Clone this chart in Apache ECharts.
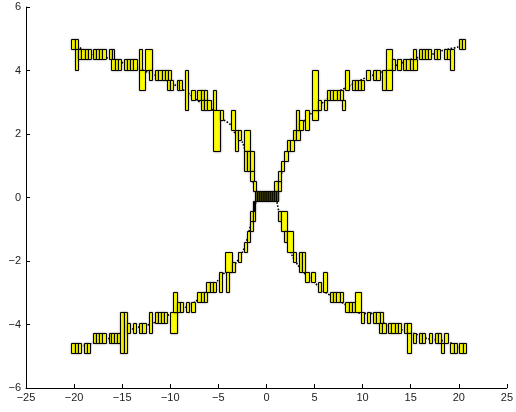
<!DOCTYPE html>
<html>
<head>
<meta charset="utf-8">
<script src="https://cdn.jsdelivr.net/npm/echarts@6/dist/echarts.min.js"></script>
<style>
  html, body { margin: 0; padding: 0; background: #fff; }
  #chart { width: 516px; height: 412px; }
</style>
</head>
<body>
<div id="chart"></div>
<script>
// Axis ranges and ticks
const xRange = [-25, 25];
const xStep = 5;
const yRange = [-6, 6];
const yStep = 2;

// Boxes per branch: [xLeft, xRight, yLow, yHigh, cells]
const upperLeftBoxes = [
  [-20.28, -19.59, 4.67, 4.99, 2],
  [-19.93, -19.59, 4.03, 4.67, 1],
  [-19.59, -18.22, 4.35, 4.67, 4],
  [-18.04, -16.73, 4.35, 4.67, 4],
  [-16.42, -15.80, 4.35, 4.67, 2],
  [-16.14, -15.11, 4.03, 4.35, 3],
  [-14.83, -13.49, 4.03, 4.35, 4],
  [-13.28, -12.93, 4.03, 4.67, 1],
  [-13.28, -12.59, 3.40, 4.03, 1],
  [-12.59, -11.90, 4.03, 4.67, 1],
  [-12.24, -11.90, 3.71, 4.03, 1],
  [-11.59, -9.88, 3.71, 4.03, 5],
  [-10.38, -9.69, 3.40, 3.71, 2],
  [-9.35, -8.73, 3.40, 3.71, 2],
  [-8.45, -8.11, 2.76, 4.03, 1],
  [-7.80, -7.45, 3.08, 3.40, 1],
  [-7.18, -6.14, 3.08, 3.40, 3],
  [-6.83, -5.80, 2.76, 3.08, 3],
  [-5.55, -5.21, 2.76, 3.40, 1],
  [-5.55, -4.86, 1.48, 2.76, 1],
  [-4.86, -4.52, 2.44, 2.76, 1],
  [-3.66, -3.31, 2.12, 2.76, 1],
  [-3.31, -2.97, 1.48, 2.12, 1],
  [-2.97, -2.62, 1.80, 2.12, 1],
  [-2.35, -1.66, 1.48, 2.12, 1],
  [-2.35, -1.33, 0.84, 1.48, 3],
  [-1.66, -1.33, 0.52, 0.84, 1],
  [-1.40, -1.07, 0.20, 0.52, 1]
];

const lowerLeftBoxes = [
  [-20.28, -19.24, -4.90, -4.58, 3],
  [-19.00, -18.31, -4.90, -4.58, 2],
  [-18.04, -16.73, -4.58, -4.26, 4],
  [-16.42, -15.21, -4.58, -4.26, 4],
  [-15.18, -14.49, -4.90, -3.62, 2],
  [-14.49, -14.14, -4.26, -3.94, 1],
  [-13.90, -13.55, -4.26, -3.94, 1],
  [-13.28, -12.52, -4.26, -3.94, 2],
  [-12.24, -11.90, -4.26, -3.62, 1],
  [-11.59, -10.38, -3.94, -3.62, 4],
  [-10.04, -9.35, -4.26, -3.62, 1],
  [-9.69, -9.35, -3.62, -2.99, 1],
  [-9.35, -8.66, -3.62, -3.30, 2],
  [-8.38, -8.04, -3.62, -3.30, 1],
  [-7.80, -7.45, -3.62, -3.30, 1],
  [-7.18, -6.14, -3.30, -2.99, 3],
  [-6.24, -5.21, -2.99, -2.67, 3],
  [-4.93, -4.59, -2.99, -2.35, 1],
  [-4.31, -3.62, -2.35, -1.71, 1],
  [-4.24, -3.90, -2.99, -2.35, 1],
  [-3.62, -3.28, -2.35, -2.03, 1],
  [-2.97, -2.62, -2.03, -1.71, 1],
  [-2.35, -2.00, -1.71, -1.39, 1],
  [-2.00, -1.66, -1.39, -1.07, 1],
  [-1.66, -1.38, -1.07, -0.75, 1],
  [-1.66, -1.14, -0.75, -0.43, 2]
];

const upperRightBoxes = [
  [0.82, 1.51, 0.20, 0.52, 2],
  [1.17, 1.51, 0.52, 0.84, 1],
  [1.51, 1.86, 0.84, 1.16, 1],
  [1.86, 2.20, 1.16, 1.48, 1],
  [2.13, 2.82, 1.48, 1.80, 2],
  [2.76, 3.45, 1.80, 2.12, 2],
  [3.07, 3.41, 2.12, 2.76, 1],
  [3.41, 3.76, 2.12, 2.44, 1],
  [4.03, 4.38, 2.12, 2.76, 1],
  [4.72, 5.34, 2.44, 2.76, 1],
  [4.72, 5.34, 2.76, 4.03, 1],
  [5.34, 5.65, 2.76, 3.08, 1],
  [5.99, 6.27, 2.76, 3.08, 1],
  [6.27, 8.00, 3.08, 3.40, 5],
  [7.86, 8.20, 2.76, 3.08, 1],
  [8.20, 8.55, 3.40, 4.03, 1],
  [8.86, 10.13, 3.40, 3.71, 4],
  [10.40, 10.74, 3.71, 4.03, 1],
  [11.08, 11.77, 3.71, 4.03, 2],
  [12.05, 12.39, 3.40, 4.03, 1],
  [12.39, 13.02, 4.03, 4.67, 1],
  [12.39, 13.02, 3.40, 4.03, 1],
  [13.02, 13.36, 4.03, 4.35, 1],
  [13.62, 13.96, 4.03, 4.35, 1],
  [14.20, 15.65, 4.03, 4.35, 4],
  [15.20, 15.55, 4.35, 4.67, 1],
  [15.84, 17.13, 4.35, 4.67, 4],
  [17.40, 18.09, 4.35, 4.67, 2],
  [18.42, 18.76, 4.35, 4.67, 1],
  [18.78, 19.10, 4.35, 4.67, 1],
  [19.10, 19.45, 4.03, 4.67, 1],
  [20.07, 20.69, 4.67, 4.99, 2]
];

const lowerRightBoxes = [
  [1.17, 1.51, -0.75, -0.43, 1],
  [1.51, 2.13, -1.07, -0.43, 1],
  [1.79, 2.13, -1.39, -1.07, 1],
  [2.13, 2.76, -1.71, -1.07, 1],
  [2.76, 3.07, -2.03, -1.71, 1],
  [3.34, 4.03, -2.35, -1.71, 2],
  [4.03, 4.38, -2.67, -2.35, 1],
  [4.68, 5.02, -2.67, -2.35, 1],
  [5.31, 5.65, -2.99, -2.67, 1],
  [5.93, 6.27, -2.99, -2.35, 1],
  [6.62, 7.93, -3.30, -2.99, 4],
  [8.20, 9.20, -3.62, -3.30, 3],
  [9.20, 9.79, -3.62, -2.99, 1],
  [9.79, 10.13, -3.94, -3.62, 1],
  [10.46, 10.81, -3.94, -3.62, 1],
  [11.10, 12.10, -3.94, -3.62, 3],
  [11.72, 12.41, -4.26, -3.94, 2],
  [12.65, 13.98, -4.26, -3.94, 4],
  [14.28, 14.98, -4.26, -3.94, 2],
  [14.63, 14.98, -4.90, -4.26, 1],
  [15.24, 15.58, -4.58, -4.26, 1],
  [15.90, 16.52, -4.58, -4.26, 2],
  [16.86, 17.20, -4.58, -4.26, 1],
  [17.48, 18.17, -4.58, -4.26, 2],
  [18.17, 18.51, -4.90, -4.58, 1],
  [18.45, 18.86, -4.58, -4.26, 1],
  [19.13, 19.82, -4.90, -4.58, 2],
  [20.07, 20.72, -4.90, -4.58, 2]
];

// Crossing block where all four branches meet, drawn densely packed
const centreBoxes = [
  [-1.14, 1.27, -0.11, 0.20, 12],
  [-1.38, -1.14, -0.43, -0.11, 2]
];

// Underlying trend of each branch
const upperLeftX = [-20.3, -19, -18.2, -16.7, -15, -13.4, -11.8, -10.5, -9.6, -8.2, -7.3, -6, -5, -4.4, -3.7, -3, -2.5, -2, -1.6, -1.3, -1.1];
const upperLeftY = [4.85, 4.65, 4.5, 4.41, 4.25, 4.07, 3.88, 3.72, 3.56, 3.3, 3.08, 2.85, 2.6, 2.44, 2.28, 1.85, 1.74, 1.2, 0.75, 0.4, 0.15];
const lowerLeftX = [-20.3, -18.2, -16.6, -15, -14.1, -13.5, -11.8, -10.2, -8.6, -7.4, -6, -5, -4, -3.2, -2.5, -2, -1.6, -1.3, -1.1];
const lowerLeftY = [-4.75, -4.6, -4.46, -4.3, -4.17, -4.1, -3.96, -3.7, -3.49, -3.28, -2.95, -2.6, -2.25, -2.07, -1.73, -1.3, -0.8, -0.45, -0.15];
const upperRightX = [1.1, 1.3, 1.7, 2.1, 2.6, 3.2, 3.9, 4.5, 5.7, 7, 8.7, 10.3, 12, 13.5, 15, 17.3, 18.3, 19, 19.9, 20.7];
const upperRightY = [0.15, 0.45, 0.9, 1.3, 1.65, 2.0, 2.4, 2.6, 2.95, 3.25, 3.53, 3.77, 3.95, 4.16, 4.35, 4.52, 4.63, 4.68, 4.74, 4.85];
const lowerRightX = [1.1, 1.3, 1.7, 2.1, 2.65, 3.27, 4.0, 4.48, 5.07, 5.76, 7.0, 8.0, 9.89, 10.93, 12.48, 14.13, 15.5, 16.72, 18.86, 19.89, 20.6];
const lowerRightY = [-0.15, -0.45, -0.9, -1.3, -1.81, -2.13, -2.4, -2.54, -2.7, -2.91, -3.15, -3.33, -3.65, -3.65, -4.02, -4.17, -4.3, -4.44, -4.54, -4.7, -4.75];

const zip = (xs, ys) => xs.map((x, i) => [x, ys[i]]);
const minus = v => String(v).replace('-', '\u2212');
const snap = v => Math.round(v) + 0.5;

function makeRenderer(fill) {
  return function (params, api) {
    const x0 = api.value(0), x1 = api.value(1);
    const lo = api.value(2), hi = api.value(3), n = api.value(4);
    const a = api.coord([x0, hi]);
    const b = api.coord([x1, lo]);
    const top = snap(a[1]), bottom = snap(b[1]);
    const children = [];
    for (let c = 0; c < n; c++) {
      const l = a[0] + (b[0] - a[0]) * c / n;
      const r = a[0] + (b[0] - a[0]) * (c + 1) / n;
      const sl = n > 6 ? l : snap(l);
      const sr = n > 6 ? r : snap(r);
      children.push({
        type: 'rect',
        shape: { x: sl, y: top, width: sr - sl, height: bottom - top },
        style: {
          fill: fill,
          stroke: '#000',
          lineWidth: 1,
          shadowBlur: 2,
          shadowColor: 'rgba(0,0,0,0.35)'
        }
      });
    }
    return { type: 'group', children };
  };
}

function boxSeries(data, fill) {
  return {
    type: 'custom',
    renderItem: makeRenderer(fill),
    data,
    encode: { x: [0, 1], y: [2, 3] },
    z: 3,
    silent: true,
    clip: false
  };
}

function trendSeries(xs, ys) {
  return {
    type: 'line',
    data: zip(xs, ys),
    showSymbol: false,
    smooth: 0.3,
    lineStyle: { color: '#000', width: 1.6, type: [1.6, 1.6] },
    z: 2,
    silent: true
  };
}

const chart = echarts.init(document.getElementById('chart'), null, { renderer: 'canvas' });
const axisText = { color: '#222', fontSize: 11, fontFamily: 'Liberation Sans, Arial, sans-serif' };

chart.setOption({
  animation: false,
  backgroundColor: '#fff',
  grid: { left: 26, right: 7, top: 7, bottom: 24, containLabel: false },
  xAxis: {
    type: 'value',
    min: xRange[0], max: xRange[1], interval: xStep,
    axisLine: { show: true, onZero: false, lineStyle: { color: '#000', width: 1 } },
    axisTick: { show: true, inside: true, length: 4, lineStyle: { color: '#000' } },
    axisLabel: Object.assign({ margin: 4, formatter: minus }, axisText),
    splitLine: { show: false }
  },
  yAxis: {
    type: 'value',
    min: yRange[0], max: yRange[1], interval: yStep,
    axisLine: { show: true, onZero: false, lineStyle: { color: '#000', width: 1 } },
    axisTick: { show: true, inside: true, length: 4, lineStyle: { color: '#000' } },
    axisLabel: Object.assign({ margin: 5, formatter: minus }, axisText),
    splitLine: { show: false }
  },
  series: [
    trendSeries(upperLeftX, upperLeftY),
    trendSeries(lowerLeftX, lowerLeftY),
    trendSeries(upperRightX, upperRightY),
    trendSeries(lowerRightX, lowerRightY),
    boxSeries(upperLeftBoxes, '#ffff00'),
    boxSeries(lowerLeftBoxes, '#ffff00'),
    boxSeries(upperRightBoxes, '#ffff00'),
    boxSeries(lowerRightBoxes, '#ffff00'),
    boxSeries(centreBoxes, '#8a8a12')
  ]
});
</script>
</body>
</html>
